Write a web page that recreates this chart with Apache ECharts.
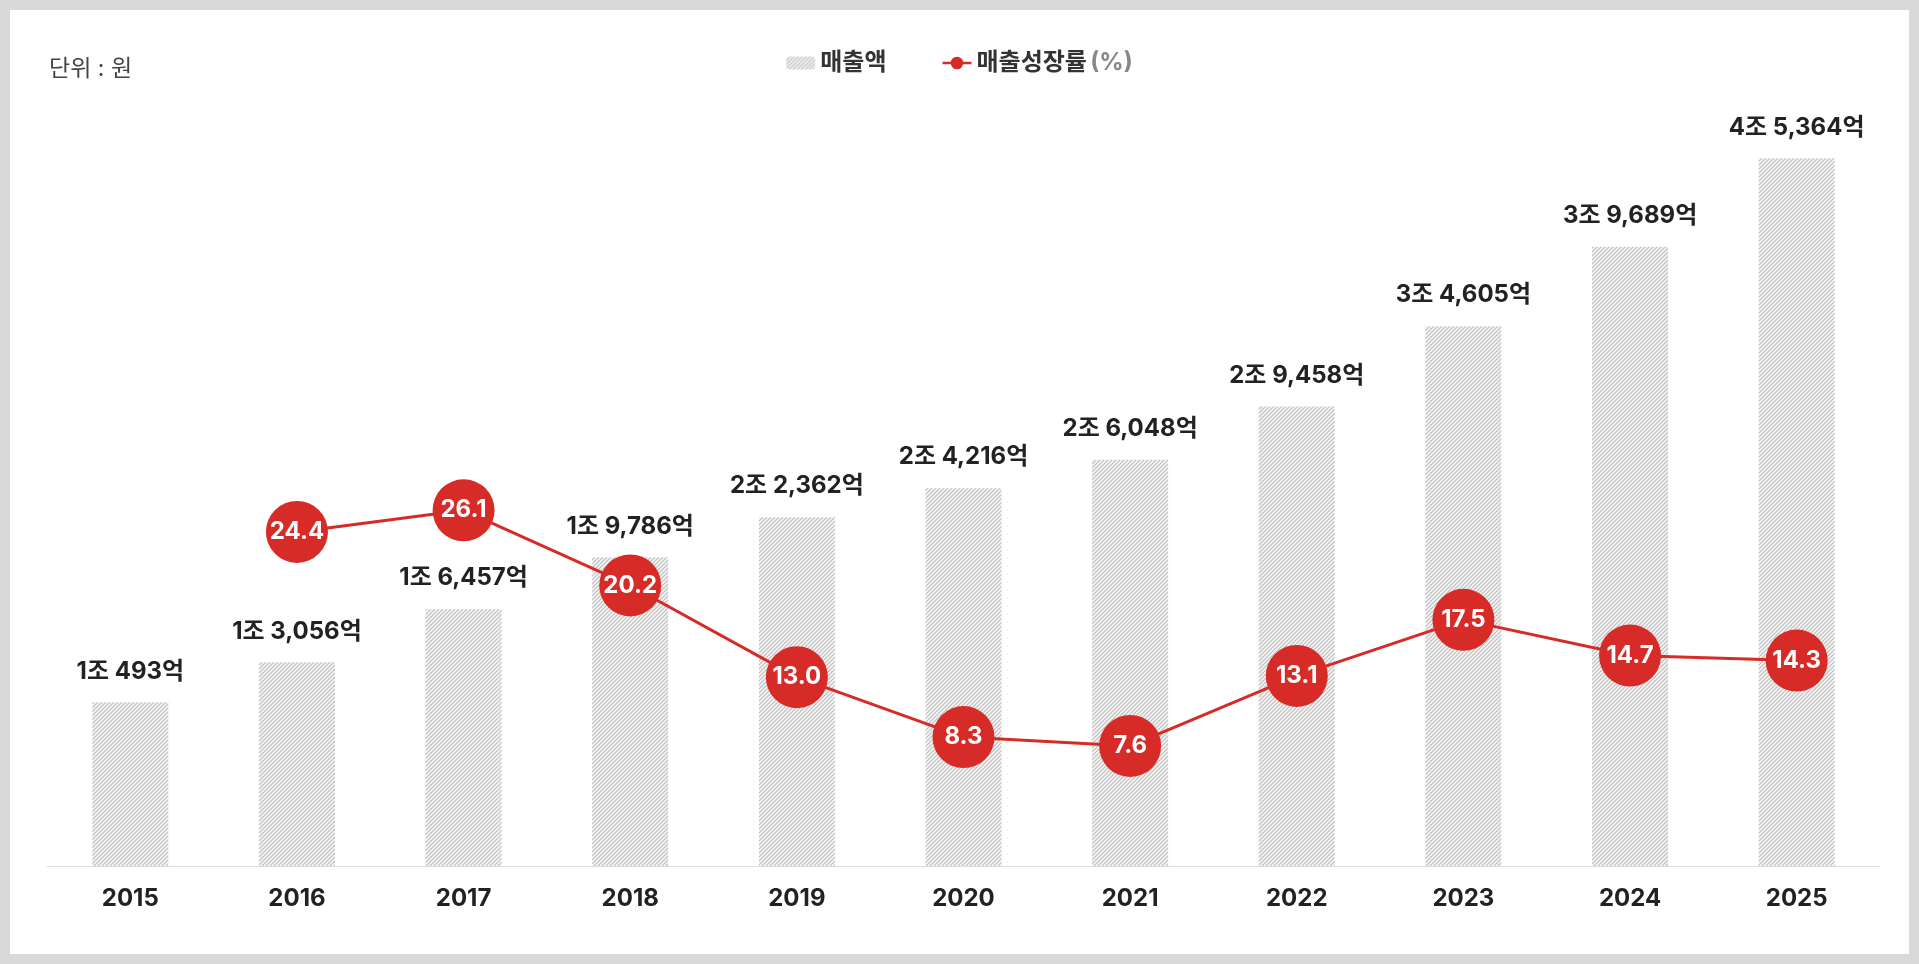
<!DOCTYPE html>
<html>
<head>
<meta charset="utf-8">
<script src="https://cdn.jsdelivr.net/npm/echarts@6/dist/echarts.min.js"></script>
<style>
  html, body { margin: 0; padding: 0; background: #fff; }
  #chart { position: absolute; left: 0; top: 0; width: 1919px; height: 964px; }
  .frame {
    position: absolute; left: 0; top: 0; width: 1919px; height: 964px;
    box-sizing: border-box; border: 10px solid #d9d9d9; pointer-events: none;
  }
</style>
</head>
<body>
<div id="chart"></div>
<div class="frame"></div>
<script>
// 연도별 매출액(억 원)과 매출성장률(%)
var years = ['2015', '2016', '2017', '2018', '2019', '2020', '2021', '2022', '2023', '2024', '2025'];
var sales = [10493, 13056, 16457, 19786, 22362, 24216, 26048, 29458, 34605, 39689, 45364];
var growth = [null, 24.4, 26.1, 20.2, 13.0, 8.3, 7.6, 13.1, 17.5, 14.7, 14.3];

var FONT = 'Inter, "Noto Sans CJK KR", sans-serif';
var RED = '#d62b26';

// 빗금 패턴
function hatch() {
  var size = 4;
  var c = document.createElement('canvas');
  c.width = size;
  c.height = size;
  var ctx = c.getContext('2d');
  ctx.fillStyle = '#f6f6f6';
  ctx.fillRect(0, 0, size, size);
  ctx.strokeStyle = '#bdbdbd';
  ctx.lineWidth = 1.2;
  ctx.beginPath();
  ctx.moveTo(0, size); ctx.lineTo(size, 0);
  ctx.moveTo(-1, 1); ctx.lineTo(1, -1);
  ctx.moveTo(size - 1, size + 1); ctx.lineTo(size + 1, size - 1);
  ctx.stroke();
  return c;
}

function toJo(v) {
  var jo = Math.floor(v / 10000);
  var eok = v % 10000;
  return jo + '조 ' + eok.toLocaleString('en-US') + '억';
}

var chart = echarts.init(document.getElementById('chart'));
var option = {
  animation: false,
  textStyle: { fontFamily: FONT },
  graphic: [{
    type: 'text',
    left: 49,
    top: 58,
    style: { text: '단위 : 원', fill: '#444', font: '23px ' + FONT }
  }],
  legend: {
    top: 46,
    left: 'center',
    itemGap: 56,
    itemWidth: 29,
    itemHeight: 13,
    data: [
      { name: '매출액' },
      { name: '매출성장률', icon: 'path://M0,5.3H30V7.7H0Z M15,0A6.5,6.5 0 1,1 14.99,0Z' }
    ],
    formatter: function (name) {
      return name === '매출성장률' ? '{a|매출성장률} {b|(%)}' : '{a|' + name + '}';
    },
    textStyle: {
      rich: {
        a: { fontSize: 24, fontWeight: 'bold', color: '#333', fontFamily: FONT },
        b: { fontSize: 24, fontWeight: 'bold', color: '#888', fontFamily: FONT }
      }
    }
  },
  grid: { left: 47, right: 39, top: 86, bottom: 98 },
  xAxis: {
    type: 'category',
    data: years,
    axisTick: { show: false },
    axisLine: { lineStyle: { color: '#dddddd', width: 1 } },
    axisLabel: { margin: 21, fontSize: 24, fontWeight: 'bold', color: '#222', fontFamily: FONT }
  },
  yAxis: [
    { type: 'value', min: 0, max: 50000, show: false, splitLine: { show: false } },
    { type: 'value', min: -1.82, max: 59.4, show: false, splitLine: { show: false } }
  ],
  series: [
    {
      name: '매출액',
      type: 'bar',
      barWidth: 76,
      data: sales,
      itemStyle: { color: { image: hatch(), repeat: 'repeat' } },
      label: {
        show: true,
        position: 'top',
        distance: 19,
        fontSize: 24,
        fontWeight: 'bold',
        color: '#222',
        fontFamily: FONT,
        formatter: function (p) { return toJo(p.value); }
      }
    },
    {
      name: '매출성장률',
      type: 'line',
      yAxisIndex: 1,
      data: growth,
      symbol: 'circle',
      symbolSize: 62,
      lineStyle: { color: RED, width: 3 },
      itemStyle: { color: RED },
      z: 5,
      label: {
        show: true,
        position: 'inside',
        fontSize: 24,
        fontWeight: 'bold',
        color: '#fff',
        fontFamily: FONT,
        formatter: function (p) { return p.value == null ? '' : p.value.toFixed(1); }
      }
    }
  ]
};
chart.setOption(option);
</script>
</body>
</html>
